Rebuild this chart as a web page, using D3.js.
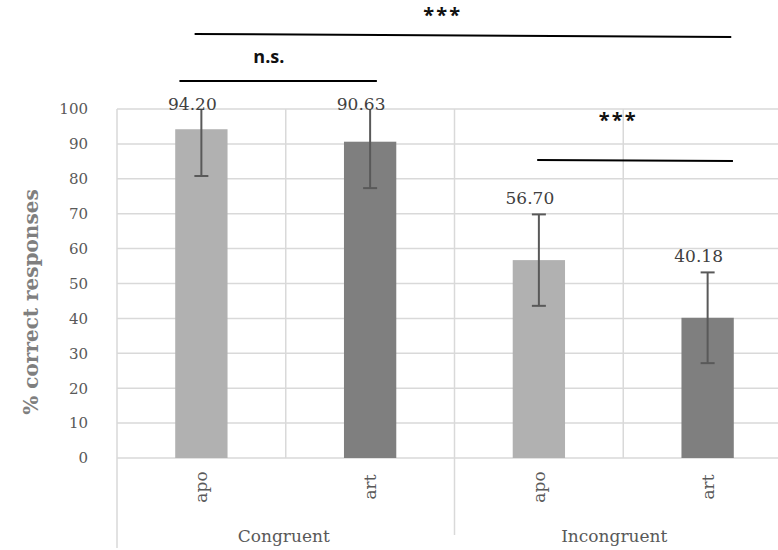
<!DOCTYPE html>
<html><head><meta charset="utf-8">
<script src="https://cdn.jsdelivr.net/npm/d3@7"></script>
<style>body{margin:0;background:#fff} svg{display:block}</style>
</head><body>
<svg id="chart" width="778" height="550"></svg>
<script>
// ---- data ----
const groups = ["Congruent", "Incongruent"];
const conditions = ["apo", "art", "apo", "art"];
const conditionGroup = ["Congruent", "Congruent", "Incongruent", "Incongruent"];
const means = [94.20, 90.63, 56.70, 40.18];
const errors = [13.4, 13.3, 13.1, 13.0];
const yTicks = [0, 10, 20, 30, 40, 50, 60, 70, 80, 90, 100];
// significance annotations: x in category-index units, y in value units
const sigLabels = ["***", "n.s.", "***"];
const sigLineX1 = [-0.04, -0.13, 1.99];
const sigLineX2 = [3.14, 1.04, 3.15];
const sigLineY1 = [121.5, 108.0, 85.4];
const sigLineY2 = [120.6, 108.0, 85.1];
const sigTextX = [1.43, 0.40, 2.47];
const sigTextY = [125.0, 113.2, 94.8];

// ---- layout ----
const W = 778, H = 550;
const plotL = 117, plotR = 792, plotT = 109, plotB = 458;
const svg = d3.select("#chart");
svg.append("rect").attr("width", W).attr("height", H).attr("fill", "#fff");

const keys = means.map((d, i) => i);
const x = d3.scaleBand().domain(keys).range([plotL, plotR]).padding(0);
const y = d3.scaleLinear().domain([0, 100]).range([plotB, plotT]);
const xi = d3.scaleLinear().domain([0, 1]).range([x(0) + x.bandwidth() / 2, x(1) + x.bandwidth() / 2]);
const barW = x.bandwidth() * 0.31;
const colorOf = d3.scaleOrdinal().domain(["apo", "art"]).range(["#b1b1b1", "#7f7f7f"]);
const serif = "'DejaVu Serif', 'Liberation Serif', serif";
const gridColor = "#d9d9d9";

// horizontal gridlines
svg.append("g").selectAll("line").data(yTicks).join("line")
  .attr("x1", plotL).attr("x2", plotR)
  .attr("y1", d => y(d)).attr("y2", d => y(d))
  .attr("stroke", gridColor).attr("stroke-width", 1.5);

// vertical category separators
svg.append("g").selectAll("line").data(keys).join("line")
  .attr("x1", d => x(d)).attr("x2", d => x(d))
  .attr("y1", plotT)
  .attr("y2", (d, i) => i === 0 ? 548 : (conditionGroup[i] !== conditionGroup[i - 1] ? 535 : plotB))
  .attr("stroke", gridColor).attr("stroke-width", 1.5);

// y axis
const yAxis = svg.append("g").attr("transform", `translate(${plotL},0)`)
  .call(d3.axisLeft(y).tickValues(yTicks).tickSize(0).tickPadding(29));
yAxis.attr("font-family", serif).attr("font-size", 15);
yAxis.select(".domain").remove();
yAxis.selectAll("text").attr("font-family", serif).attr("font-size", 15).attr("fill", "#595959");

// y title
svg.append("text")
  .attr("transform", `translate(38,302) rotate(-90)`)
  .attr("text-anchor", "middle")
  .attr("font-family", serif).attr("font-size", 20).attr("font-weight", "bold")
  .attr("fill", "#7f7f7f")
  .text("% correct responses");

// bars
svg.append("g").selectAll("rect").data(keys).join("rect")
  .attr("x", i => x(i) + x.bandwidth() / 2 - barW / 2)
  .attr("width", barW)
  .attr("y", i => y(means[i]))
  .attr("height", i => y(0) - y(means[i]))
  .attr("fill", i => colorOf(conditions[i]));

// error bars
const eg = svg.append("g").attr("stroke", "#595959").attr("stroke-width", 2);
keys.forEach(i => {
  const cx = x(i) + x.bandwidth() / 2;
  const hi = Math.min(means[i] + errors[i], 100);
  const lo = means[i] - errors[i];
  eg.append("line").attr("x1", cx).attr("x2", cx).attr("y1", y(hi)).attr("y2", y(lo));
  eg.append("line").attr("x1", cx - 7).attr("x2", cx + 7).attr("y1", y(lo)).attr("y2", y(lo));
  if (means[i] + errors[i] <= 100)
    eg.append("line").attr("x1", cx - 7).attr("x2", cx + 7).attr("y1", y(hi)).attr("y2", y(hi));
});

// value labels
svg.append("g").selectAll("text").data(keys).join("text")
  .attr("x", i => x(i) + x.bandwidth() / 2 - 9)
  .attr("y", i => Math.max(y(means[i] + errors[i]) - 10, y(100) + 1))
  .attr("text-anchor", "middle")
  .attr("font-family", serif).attr("font-size", 17).attr("fill", "#404040")
  .text(i => means[i].toFixed(2));

// category labels (rotated)
svg.append("g").selectAll("text").data(keys).join("text")
  .attr("transform", i => `translate(${x(i) + x.bandwidth() / 2 + 6},487) rotate(-90)`)
  .attr("text-anchor", "middle")
  .attr("font-family", serif).attr("font-size", 17).attr("fill", "#595959")
  .text(i => conditions[i]);

// group labels
groups.forEach(g => {
  const idx = keys.filter(i => conditionGroup[i] === g);
  const x0 = x(idx[0]);
  const x1 = Math.min(x(idx[idx.length - 1]) + x.bandwidth(), W);
  svg.append("text")
    .attr("x", (x0 + x1) / 2 - 2).attr("y", 542)
    .attr("text-anchor", "middle")
    .attr("font-family", serif).attr("font-size", 17).attr("fill", "#595959")
    .text(g);
});

// significance annotations
const ag = svg.append("g");
sigLabels.forEach((s, k) => {
  ag.append("line")
    .attr("x1", xi(sigLineX1[k])).attr("x2", xi(sigLineX2[k]))
    .attr("y1", y(sigLineY1[k])).attr("y2", y(sigLineY2[k]))
    .attr("stroke", "#000").attr("stroke-width", 2);
  ag.append("text")
    .attr("x", xi(sigTextX[k])).attr("y", y(sigTextY[k]))
    .attr("text-anchor", "middle")
    .attr("font-family", "'Open Sans', 'Liberation Sans', sans-serif")
    .attr("font-weight", "bold")
    .attr("font-size", s === "n.s." ? 18 : 20)
    .attr("letter-spacing", s === "n.s." ? 0 : 2)
    .attr("fill", "#111")
    .text(s);
});
</script>
</body></html>
